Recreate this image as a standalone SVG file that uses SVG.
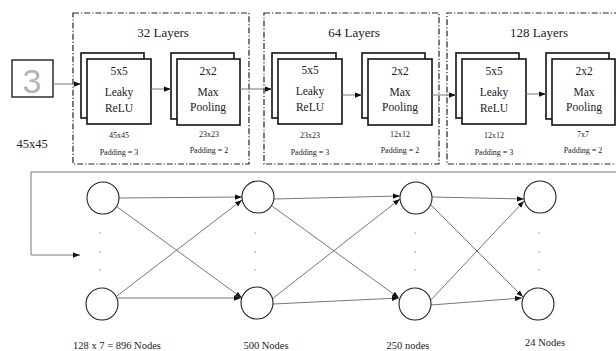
<svg xmlns="http://www.w3.org/2000/svg" width="616" height="351" viewBox="0 0 616 351">
<defs>
<marker id="ah" viewBox="0 0 8 6" refX="8" refY="3" markerWidth="7" markerHeight="5.5" markerUnits="userSpaceOnUse" orient="auto">
<path d="M0,0 L8,3 L0,6 Z" fill="#111"/>
</marker>
<style>
text{font-family:"Liberation Serif","Times New Roman",serif;fill:#222;text-anchor:middle}
.frame{fill:none;stroke:#222;stroke-width:1.2;stroke-dasharray:6 2 1.2 2}
.sq{fill:#fff;stroke:#111;stroke-width:1.6}
.t13{font-size:13px}
.t11{font-size:11.5px}
.t8{font-size:8px}
.lbl{font-size:10.5px}
.conn{fill:none;stroke:#777;stroke-width:1;marker-end:url(#ah)}
.neuron{fill:#fff;stroke:#222;stroke-width:1.1}
.dot{fill:#999}
</style>
</defs>
<rect width="616" height="351" fill="#fff"/>

<g id="input">
<rect x="12" y="60" width="41" height="37" fill="#fff" stroke="#222" stroke-width="1.4"/>
<text x="32" y="93" style="font-family:'Liberation Sans',sans-serif;font-size:34px;fill:#b5b5b5">3</text>
<text x="32" y="148" style="font-size:12.5px">45x45</text>
</g>

<g id="block1">
<rect class="frame" x="73" y="13" width="176" height="151"/>
<text class="t13" x="163" y="37">32 Layers</text>
<g id="conv1">
<rect class="sq" x="81" y="53" width="63" height="65"/>
<rect class="sq" x="87" y="59" width="64" height="65"/>
<text class="t11" x="119" y="75">5x5</text>
<text class="t11" x="119" y="96">Leaky</text>
<text class="t11" x="119" y="112">ReLU</text>
<text class="t8" x="119" y="138">45x45</text>
<text class="t8" x="119" y="155">Padding = 3</text>
</g>
<g id="pool1">
<rect class="sq" x="171" y="53" width="63" height="66"/>
<rect class="sq" x="177" y="59" width="63" height="66"/>
<text class="t11" x="208" y="75">2x2</text>
<text class="t11" x="208" y="96">Max</text>
<text class="t11" x="208" y="111">Pooling</text>
<text class="t8" x="209" y="137">23x23</text>
<text class="t8" x="209" y="153">Padding = 2</text>
</g>
</g>

<g id="block2">
<rect class="frame" x="264" y="13" width="175" height="151"/>
<text class="t13" x="354" y="37">64 Layers</text>
<g id="conv2">
<rect class="sq" x="272" y="53" width="64" height="65"/>
<rect class="sq" x="278" y="59" width="64" height="65"/>
<text class="t11" x="310" y="74">5x5</text>
<text class="t11" x="310" y="95">Leaky</text>
<text class="t11" x="310" y="111">ReLU</text>
<text class="t8" x="310" y="138">23x23</text>
<text class="t8" x="310" y="155">Padding = 3</text>
</g>
<g id="pool2">
<rect class="sq" x="362" y="53" width="63" height="65"/>
<rect class="sq" x="368" y="59" width="64" height="66"/>
<text class="t11" x="400" y="75">2x2</text>
<text class="t11" x="400" y="96">Max</text>
<text class="t11" x="400" y="111">Pooling</text>
<text class="t8" x="400" y="137">12x12</text>
<text class="t8" x="400" y="153">Padding = 2</text>
</g>
</g>

<g id="block3">
<path class="frame" d="M620,13 H447 V164 H620"/>
<text class="t13" x="539" y="37">128 Layers</text>
<g id="conv3">
<rect class="sq" x="456" y="53" width="63" height="65"/>
<rect class="sq" x="462" y="59" width="64" height="65"/>
<text class="t11" x="494" y="75">5x5</text>
<text class="t11" x="494" y="96">Leaky</text>
<text class="t11" x="494" y="112">ReLU</text>
<text class="t8" x="494" y="138">12x12</text>
<text class="t8" x="494" y="155">Padding = 3</text>
</g>
<g id="pool3">
<rect class="sq" x="546" y="53" width="63" height="66"/>
<rect class="sq" x="552" y="59" width="63" height="66"/>
<text class="t11" x="584" y="75">2x2</text>
<text class="t11" x="584" y="96">Max</text>
<text class="t11" x="584" y="111">Pooling</text>
<text class="t8" x="583" y="137">7x7</text>
<text class="t8" x="583" y="153">Padding = 2</text>
</g>
</g>

<g id="connectors">
<line class="conn" x1="53" y1="84" x2="81" y2="84"/>
<line class="conn" x1="151" y1="89" x2="171" y2="89"/>
<line class="conn" x1="240" y1="89" x2="272" y2="89"/>
<line class="conn" x1="342" y1="95" x2="362" y2="95"/>
<line class="conn" x1="432" y1="95" x2="456" y2="95"/>
<line class="conn" x1="526" y1="94" x2="546" y2="94"/>
<path class="conn" d="M616,172 H31 V255 H80"/>

<line class="conn" x1="119" y1="198" x2="242" y2="197"/>
<line class="conn" x1="116" y1="206" x2="242" y2="298"/>
<line class="conn" x1="117" y1="296" x2="242" y2="200"/>
<line class="conn" x1="118" y1="298" x2="241" y2="298"/>

<line class="conn" x1="274" y1="199" x2="400" y2="196"/>
<line class="conn" x1="272" y1="206" x2="399" y2="298"/>
<line class="conn" x1="272" y1="299" x2="400" y2="199"/>
<line class="conn" x1="273" y1="304" x2="399" y2="298"/>

<line class="conn" x1="432" y1="197" x2="524" y2="199"/>
<line class="conn" x1="431" y1="205" x2="523" y2="297"/>
<line class="conn" x1="429" y1="302" x2="524" y2="201"/>
<line class="conn" x1="431" y1="305" x2="522" y2="298"/>
</g>

<g id="layer1">
<circle class="neuron" cx="103" cy="198" r="16"/>
<circle class="neuron" cx="102" cy="304" r="16"/>
<circle class="dot" cx="100" cy="233" r="0.8"/>
<circle class="dot" cx="100" cy="252" r="0.8"/>
<circle class="dot" cx="100" cy="270" r="0.8"/>
<text class="lbl" x="117" y="349">128 x 7 = 896 Nodes</text>
</g>
<g id="layer2">
<circle class="neuron" cx="258" cy="197" r="16"/>
<circle class="neuron" cx="257" cy="303" r="16"/>
<circle class="dot" cx="255" cy="233" r="0.8"/>
<circle class="dot" cx="255" cy="252" r="0.8"/>
<circle class="dot" cx="255" cy="270" r="0.8"/>
<text class="lbl" x="266" y="349">500 Nodes</text>
</g>
<g id="layer3">
<circle class="neuron" cx="416" cy="198" r="16"/>
<circle class="neuron" cx="415" cy="304" r="16"/>
<circle class="dot" cx="415" cy="233" r="0.8"/>
<circle class="dot" cx="415" cy="252" r="0.8"/>
<circle class="dot" cx="415" cy="270" r="0.8"/>
<text class="lbl" x="408" y="349">250 nodes</text>
</g>
<g id="layer4">
<circle class="neuron" cx="540" cy="197" r="16"/>
<circle class="neuron" cx="538" cy="304" r="16"/>
<circle class="dot" cx="539" cy="233" r="0.8"/>
<circle class="dot" cx="539" cy="252" r="0.8"/>
<circle class="dot" cx="539" cy="270" r="0.8"/>
<text class="lbl" x="545" y="346">24 Nodes</text>
</g>
</svg>
